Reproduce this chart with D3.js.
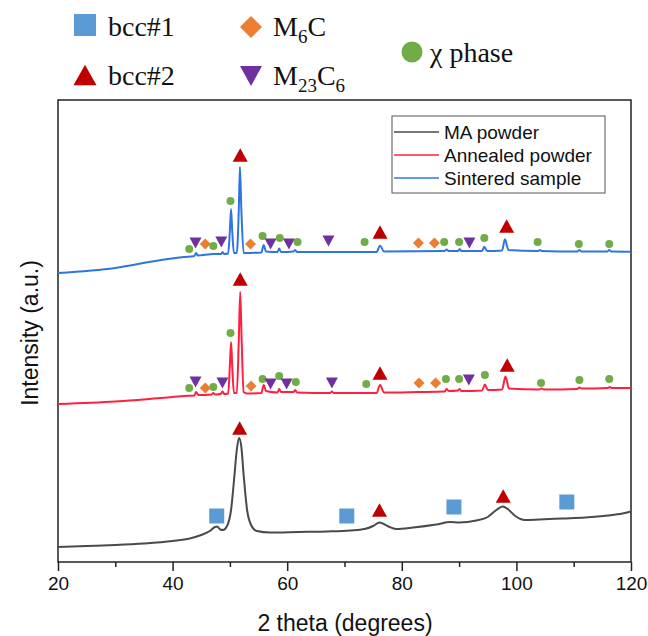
<!DOCTYPE html>
<html>
<head>
<meta charset="utf-8">
<script src="https://cdn.jsdelivr.net/npm/d3@7"></script>
<style>
  body { margin: 0; background: #fff; }
  svg { display: block; }
</style>
</head>
<body>
<div id="chart"></div>
<script>
// XRD patterns, [2theta, intensity (a.u., stacked offsets)]
const maPowder = [
  [20, 15], [25, 16], [30, 17], [35, 18.5], [40, 21], [43, 23.5], [45, 27], [46.5, 31],
  [47.4, 35], [47.8, 35.5], [48.3, 32.5], [48.8, 32], [49.5, 36], [50.2, 52], [50.8, 87],
  [51.2, 112], [51.6, 124], [52.0, 115], [52.4, 87], [53.0, 52], [53.7, 37], [54.7, 31],
  [57, 29.5], [62, 30], [67, 30.5], [71, 31.5], [73.5, 33], [75, 36], [76.1, 39.5],
  [77.5, 36], [79, 33], [82, 34.5], [86, 37.5], [88.5, 40], [90, 39.5], [93, 41.5],
  [95, 45], [96.5, 52], [97.6, 55.5], [98.5, 53], [99.8, 46], [101.5, 42], [104, 42.5],
  [108, 43.5], [112, 44.5], [116, 46.5], [118.5, 48.5], [120, 50.5]
];
const annealedPowder = [
  [20, 158], [30, 160.5], [38, 164], [42, 166], [43.8, 166.5], [44.1, 170], [44.5, 167],
  [46.8, 167.5], [47.1, 169], [47.4, 167.5], [48.4, 168], [48.7, 170.5], [49.0, 168],
  [49.7, 168.5], [50.0, 197], [50.2, 220], [50.4, 197], [50.7, 169], [51.2, 169],
  [51.55, 222], [51.8, 270], [52.05, 222], [52.4, 170], [53, 168.5], [55.5, 169],
  [55.9, 177], [56.3, 171], [58.3, 169.5], [58.6, 173], [58.9, 170], [61.1, 170],
  [61.4, 172], [61.7, 169.5], [67.5, 169], [67.8, 170.5], [68.1, 169], [75.6, 169],
  [76.2, 177], [76.9, 169.5], [82.9, 170], [87.5, 170.5], [87.8, 173], [88.2, 171],
  [89.8, 171.5], [90.1, 173], [90.4, 171], [94.0, 171.5], [94.5, 177.5], [95.0, 172],
  [97.5, 172.5], [98.1, 185.5], [98.7, 173.5], [104, 172.5], [104.4, 173.5], [104.8, 172.5],
  [110.6, 173], [111, 174.5], [111.4, 173.5], [116, 174], [116.3, 175], [116.6, 174], [120, 174]
];
const sinteredSample = [
  [20, 289], [30, 294], [38, 302], [42, 305], [43.8, 306], [44.1, 309], [44.4, 306.5],
  [47.1, 308], [48.5, 308], [48.7, 310], [49.0, 308], [49.7, 308.5], [50.0, 332],
  [50.2, 353], [50.4, 332], [50.7, 309], [51.2, 309], [51.55, 352], [51.75, 395],
  [52.0, 352], [52.4, 309], [55.5, 309.5], [55.9, 317], [56.3, 310.5], [58.3, 310],
  [58.6, 313.5], [58.9, 310], [61.1, 310.5], [61.4, 312], [61.7, 310], [75.6, 310],
  [76.2, 316.3], [76.9, 310.5], [87.5, 311], [87.8, 312.5], [88.2, 311], [89.8, 311],
  [90.1, 313], [90.4, 311], [94.0, 311], [94.4, 315.3], [94.9, 311], [97.5, 311.5],
  [98.0, 322.7], [98.6, 312], [103.8, 311], [104.1, 312], [104.4, 311], [110.7, 310.5],
  [111.0, 312], [111.3, 310.5], [115.9, 310.5], [116.2, 312], [116.5, 310.5], [120, 310.3]
];

// peak indexing marks: [phase, 2theta, height]
const maMarks = [
  ["bcc1", 47.7, 46], ["bcc2", 51.7, 134], ["bcc1", 70.4, 46], ["bcc2", 76.1, 52],
  ["bcc1", 89.1, 55], ["bcc2", 97.7, 66], ["bcc1", 108.8, 60]
];
const annealedMarks = [
  ["chi", 42.9, 174], ["m23", 44.0, 180], ["m6", 45.7, 174], ["chi", 47.1, 175],
  ["m23", 48.7, 179], ["chi", 50.1, 229], ["bcc2", 51.8, 283], ["m6", 53.7, 176],
  ["chi", 55.7, 183], ["m23", 57.1, 178], ["chi", 58.6, 186], ["m23", 59.9, 178],
  ["chi", 61.5, 180], ["m23", 67.8, 179], ["chi", 73.8, 178], ["bcc2", 76.2, 189],
  ["m6", 83.0, 179], ["m6", 85.9, 179], ["chi", 87.7, 183], ["chi", 90.0, 183],
  ["m23", 91.7, 182], ["chi", 94.5, 187], ["bcc2", 98.4, 197], ["chi", 104.3, 179],
  ["chi", 111.0, 182], ["chi", 116.2, 183]
];
const sinteredMarks = [
  ["chi", 42.9, 313], ["m23", 44.0, 319], ["m6", 45.7, 318], ["chi", 47.1, 316],
  ["m23", 48.5, 320], ["chi", 50.1, 361], ["bcc2", 51.8, 407], ["m6", 53.6, 318],
  ["chi", 55.7, 326], ["m23", 57.1, 318], ["chi", 58.7, 324], ["m23", 60.3, 318],
  ["chi", 61.8, 320], ["m23", 67.2, 321], ["chi", 73.5, 320], ["bcc2", 76.2, 330],
  ["m6", 82.9, 319], ["m6", 85.7, 319], ["chi", 87.4, 320], ["chi", 90.0, 320],
  ["m23", 91.8, 319], ["chi", 94.4, 324], ["bcc2", 98.3, 336], ["chi", 103.7, 320],
  ["chi", 110.9, 318], ["chi", 116.2, 318]
];

const sampleNames = ["MA powder", "Annealed powder", "Sintered sample"];
const sampleColors = ["#4a4a4a", "#ff1f3f", "#2f74e0"];
const xTicks = [20, 40, 60, 80, 100, 120];
const xMinorTicks = [30, 50, 70, 90, 110];

const phaseColor = { bcc1: "#5b9bd5", bcc2: "#c00000", m6: "#ed7d31", m23: "#7030a0", chi: "#70ad47" };
const phaseSize = { bcc1: 15, bcc2: 15, m6: 11, m23: 12, chi: 8 };

const W = 648, H = 636;
const svg = d3.select("#chart").append("svg")
    .attr("width", W)
    .attr("height", H);

const x = d3.scaleLinear().domain([20, 120]).range([58, 631]);
const y = d3.scaleLinear().domain([0, 462]).range([562, 100]);

function markerPath(type, s) {
    const h = s / 2;
    switch (type) {
        case "bcc1": return `M${-h},${-h}H${h}V${h}H${-h}Z`;
        case "bcc2": return `M0,${-0.45 * s}L${h},${0.45 * s}L${-h},${0.45 * s}Z`;
        case "m23": return `M${-h},${-0.45 * s}L${h},${-0.45 * s}L0,${0.45 * s}Z`;
        case "m6": return `M0,${-h}L${h},0L0,${h}L${-h},0Z`;
        default: return `M${h},0A${h},${h} 0 1,1 ${-h},0A${h},${h} 0 1,1 ${h},0Z`;
    }
}

// frame
svg.append("rect")
    .attr("x", 58).attr("y", 100)
    .attr("width", 573).attr("height", 462)
    .attr("fill", "none")
    .attr("stroke", "#222")
    .attr("stroke-width", 1.5);

// x axis
const xAxis = svg.append("g")
    .attr("transform", "translate(0,562)")
    .call(d3.axisBottom(x).tickValues(xTicks).tickSize(9).tickPadding(6))
    .call(g => g.select(".domain").remove());
xAxis.selectAll("line").attr("stroke", "#222").attr("stroke-width", 1.5);
xAxis.selectAll("text")
    .attr("fill", "#111")
    .style("font-family", "'Liberation Sans', Arial, sans-serif")
    .style("font-size", "19px");

svg.append("g")
    .attr("transform", "translate(0,562)")
    .call(d3.axisBottom(x).tickValues(xMinorTicks).tickSize(5).tickFormat(""))
    .call(g => g.select(".domain").remove())
    .selectAll("line").attr("stroke", "#222").attr("stroke-width", 1.5);

svg.append("text")
    .attr("x", 345).attr("y", 631)
    .attr("text-anchor", "middle")
    .style("font-family", "'Liberation Sans', Arial, sans-serif")
    .style("font-size", "23px")
    .attr("fill", "#111")
    .text("2 theta (degrees)");

svg.append("text")
    .attr("transform", "translate(38,333) rotate(-90)")
    .attr("text-anchor", "middle")
    .style("font-family", "'Liberation Sans', Arial, sans-serif")
    .style("font-size", "23px")
    .attr("fill", "#111")
    .text("Intensity (a.u.)");

// patterns
const line = d3.line()
    .x(d => x(d[0]))
    .y(d => y(d[1]))
    .curve(d3.curveMonotoneX);

[maPowder, annealedPowder, sinteredSample].forEach((data, i) => {
    svg.append("path")
        .datum(data)
        .attr("d", line)
        .attr("fill", "none")
        .attr("stroke", sampleColors[i])
        .attr("stroke-width", 2)
        .attr("stroke-linejoin", "round");
});

// peak markers
[maMarks, annealedMarks, sinteredMarks].forEach(marks => {
    svg.append("g").selectAll("path")
        .data(marks)
        .enter()
        .append("path")
        .attr("transform", d => `translate(${x(d[1])},${y(d[2])})`)
        .attr("d", d => markerPath(d[0], phaseSize[d[0]]))
        .attr("fill", d => phaseColor[d[0]]);
});

// sample legend
const leg = svg.append("g");
leg.append("rect")
    .attr("x", 392).attr("y", 116)
    .attr("width", 213).attr("height", 77)
    .attr("fill", "#fff")
    .attr("stroke", "#555")
    .attr("stroke-width", 1);
sampleNames.forEach((name, i) => {
    const ly = 132 + i * 23;
    leg.append("line")
        .attr("x1", 394).attr("x2", 439)
        .attr("y1", ly).attr("y2", ly)
        .attr("stroke", sampleColors[i])
        .attr("stroke-width", 1.7);
    leg.append("text")
        .attr("x", 444).attr("y", ly + 6.5)
        .style("font-family", "'Liberation Sans', Arial, sans-serif")
        .style("font-size", "19px")
        .attr("fill", "#111")
        .text(name);
});

// phase legend
const phaseLegend = [
    { type: "bcc1", cx: 85, cy: 25, s: 22, tx: 108, ty: 36 },
    { type: "bcc2", cx: 85, cy: 75, s: 23, tx: 108, ty: 85 },
    { type: "m6", cx: 251, cy: 27, s: 22, tx: 273, ty: 36 },
    { type: "m23", cx: 251, cy: 76, s: 22, tx: 273, ty: 85 },
    { type: "chi", cx: 412, cy: 52, s: 21, tx: 430, ty: 62 }
];
const phaseLabels = {
    bcc1: [["bcc#1", 0]],
    bcc2: [["bcc#2", 0]],
    m6: [["M", 0], ["6", 1], ["C", 0]],
    m23: [["M", 0], ["23", 1], ["C", 0], ["6", 1]],
    chi: [["\u03C7 phase", 0]]
};
const pg = svg.append("g");
phaseLegend.forEach(p => {
    pg.append("path")
        .attr("transform", `translate(${p.cx},${p.cy})`)
        .attr("d", markerPath(p.type, p.s))
        .attr("fill", phaseColor[p.type]);
    const t = pg.append("text")
        .attr("x", p.tx).attr("y", p.ty)
        .style("font-family", "'Liberation Serif', 'Times New Roman', serif")
        .style("font-size", "28px")
        .attr("fill", "#111");
    let sub = false;
    phaseLabels[p.type].forEach(([s, isSub]) => {
        const ts = t.append("tspan").text(s);
        if (isSub && !sub) { ts.attr("dy", 7).style("font-size", "19px"); sub = true; }
        else if (isSub && sub) { ts.style("font-size", "19px"); }
        else if (!isSub && sub) { ts.attr("dy", -7); sub = false; }
    });
});
</script>
</body>
</html>
